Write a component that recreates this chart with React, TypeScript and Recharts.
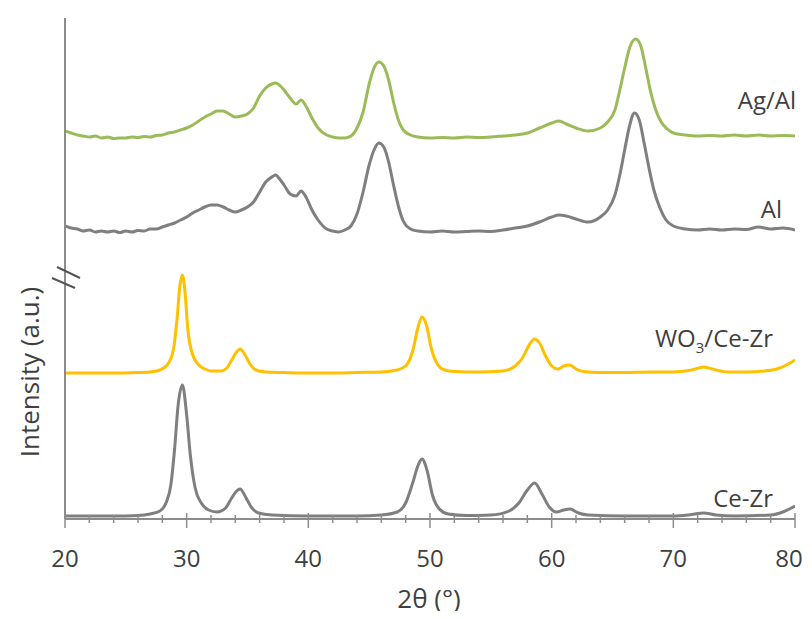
import { Line, LineChart, XAxis, YAxis } from 'recharts';

// 2-theta positions and intensities (a.u., stacked offsets)
const agAlX = [20, 20.5, 21, 21.5, 22, 22.5, 23, 23.5, 24, 24.5, 25, 25.5, 26, 26.5, 27, 27.5, 28, 28.5, 29, 29.5, 30, 30.5, 31, 31.5, 32, 32.5, 33, 33.5, 34, 34.5, 35, 35.5, 36, 36.5, 37, 37.3, 37.7, 38, 38.5, 39, 39.4, 39.8, 40.3, 40.8, 41.5, 42, 42.5, 43, 43.5, 44, 44.5, 45, 45.4, 45.8, 46.2, 46.6, 47, 47.4, 47.8, 48.4, 49, 50, 51, 52, 53, 54, 55, 56, 57, 58, 59, 60, 60.6, 61.2, 62, 63, 64, 64.6, 65.2, 65.6, 66, 66.4, 66.9, 67.3, 67.7, 68.1, 68.5, 69, 69.5, 70, 71, 72, 73, 74, 75, 76, 77, 78, 79, 80];
const agAlY = [388, 386, 384, 383, 382, 383, 381, 382, 380.5, 381, 381, 382, 381.5, 382.5, 382, 383.5, 384, 386, 387, 389, 391, 394, 398, 402, 405, 408, 408, 405, 402, 403, 405, 411, 423, 431, 435, 436, 433, 429, 421, 415, 419, 413, 401, 391, 384, 382, 381, 381, 383, 391, 407, 435, 451, 457, 453, 439, 417, 399, 389, 384, 382, 381, 381.5, 381, 382, 381.5, 382, 383, 384, 386, 391, 396, 398, 395, 391, 388, 391, 397, 409, 429, 451, 471, 480, 474, 453, 429, 411, 397, 390, 386, 384, 383, 383.5, 383, 384, 383, 384, 383, 383.5, 383];

const alX = [20, 20.5, 21, 21.5, 22, 22.5, 23, 23.5, 24, 24.5, 25, 25.5, 26, 26.5, 27, 27.5, 28, 28.5, 29, 29.5, 30, 30.5, 31, 31.5, 32, 32.5, 33, 33.5, 34, 34.5, 35, 35.5, 36, 36.5, 37, 37.3, 37.7, 38, 38.5, 39, 39.4, 39.8, 40.3, 40.8, 41.5, 42, 42.5, 43, 43.5, 44, 44.5, 45, 45.4, 45.8, 46.2, 46.6, 47, 47.4, 47.8, 48.4, 49, 50, 51, 52, 53, 54, 55, 56, 57, 58, 59, 60, 60.6, 61.2, 62, 63, 64, 64.6, 65.2, 65.6, 66, 66.4, 66.8, 67.2, 67.6, 68, 68.4, 68.9, 69.4, 70, 71, 72, 73, 74, 75, 76, 77, 78, 79, 80];
const alY = [293, 291, 290, 288, 289, 287, 288, 287, 288, 286.5, 288, 287, 288.5, 288, 290, 290, 292, 294, 296, 299, 302, 306, 309, 312, 314, 314, 312, 309, 307, 309, 312, 317, 327, 337, 342, 344, 339, 334, 325, 323, 328, 322, 309, 299, 290, 288, 287, 289, 293, 305, 327, 354, 369, 376, 372, 357, 334, 313, 298, 290, 288, 287, 288, 287, 287.5, 288, 287.5, 289, 291, 293, 297, 302, 304, 303, 300, 297, 302, 309, 324, 344, 369, 393, 406, 399, 376, 351, 329, 311, 299, 293, 290, 289, 290, 289, 290, 289.5, 292, 290, 291, 289];

const wo3X = [20, 22, 24, 26, 27, 27.8, 28.4, 28.9, 29.2, 29.45, 29.65, 29.85, 30.1, 30.5, 31, 31.5, 32, 32.8, 33.3, 33.7, 34.1, 34.4, 34.8, 35.2, 35.7, 36.5, 38, 40, 42, 44, 46, 47.3, 48, 48.6, 49, 49.35, 49.7, 50.1, 50.6, 51.2, 52, 54, 56, 57, 57.6, 58.2, 58.6, 59, 59.5, 60, 60.5, 61, 61.5, 62, 62.6, 64, 66, 68, 70, 71.5, 72.5, 73.5, 74.5, 76, 77.5, 78.5, 79.3, 80];
const wo3Y = [146, 146, 146, 146.5, 147, 149, 154, 169, 199, 234, 244, 229, 189, 164, 154, 150, 148, 148, 151, 159, 167, 170, 164, 155, 149, 147, 146.5, 146, 146, 146.5, 147, 149, 153, 169, 191, 202, 194, 171, 155, 149, 147.5, 147, 148, 153, 161, 175, 180, 176, 163, 153, 150, 153, 154, 150, 147.5, 146.5, 146.5, 147, 147, 149, 152, 149, 147, 147, 148, 150, 154, 159];

const ceZrX = [20, 22, 24, 26, 27, 27.8, 28.3, 28.7, 29, 29.3, 29.65, 30, 30.3, 30.7, 31.2, 31.8, 32.5, 33.2, 33.7, 34.1, 34.4, 34.8, 35.3, 35.9, 37, 40, 44, 46, 47.3, 48, 48.6, 49, 49.35, 49.75, 50.2, 50.7, 51.5, 53, 55, 56.5, 57.3, 58, 58.6, 59.2, 59.8, 60.4, 61, 61.5, 62.2, 63, 66, 70, 71.5, 72.5, 73.5, 75, 78, 79, 80];
const ceZrY = [3, 3, 3, 3.5, 5, 8, 16, 34, 69, 114, 134, 104, 64, 31, 16, 9, 7, 11, 21, 28, 30, 23, 12, 6, 4, 3, 3, 4, 7, 16, 37, 53, 60, 49, 24, 11, 5, 3.5, 4, 8, 16, 29, 36, 25, 12, 7, 9, 10, 6, 4, 3, 3, 4.5, 6, 4, 3, 4, 7, 13];

const xTicks = [20, 22, 24, 26, 28, 30, 32, 34, 36, 38, 40, 42, 44, 46, 48, 50, 52, 54, 56, 58, 60, 62, 64, 66, 68, 70, 72, 74, 76, 78, 80];

const toRows = (xs: number[], ys: number[]) => xs.map((x, i) => ({ x, y: ys[i] }));

const FONT = '"Open Sans", sans-serif';
const TEXT = '#3f3f3f';
const AXIS = '#8c8c8c';

function XTick(props: any) {
  const { x, y, payload } = props;
  const v = payload.value as number;
  const major = v % 10 === 0;
  // last label is pulled in a little, as in the original
  const lx = v === 80 ? x - 6 : x;
  return (
    <g>
      <line x1={x} x2={x} y1={y - (major ? 6 : 4)} y2={y + (major ? 9 : 4)} stroke={AXIS} strokeWidth={1.5} />
      {major && (
        <text x={lx} y={y + 48} textAnchor="middle" fill={TEXT} fontSize={24} fontFamily={FONT}>
          {v}
        </text>
      )}
    </g>
  );
}

export default function App() {
  const labelStyle = { fontFamily: FONT, fontSize: 24, fill: TEXT };
  return (
    <div style={{ position: 'relative', width: 796, height: 603 }}>
      <LineChart width={796} height={603} margin={{ top: 10, right: 9, bottom: 32, left: 47 }}>
        <XAxis
          type="number"
          dataKey="x"
          domain={[20, 80]}
          ticks={xTicks}
          allowDataOverflow
          height={60}
          tickSize={0}
          tickMargin={0}
          tickLine={false}
          interval={0}
          axisLine={{ stroke: AXIS, strokeWidth: 2 }}
          tick={<XTick />}
        />
        <YAxis
          type="number"
          domain={[0, 501]}
          width={10}
          tick={false}
          tickLine={false}
          axisLine={{ stroke: AXIS, strokeWidth: 2 }}
        />
        <Line data={toRows(ceZrX, ceZrY)} dataKey="y" type="monotone" stroke="#7f7f7f" strokeWidth={3} dot={false} isAnimationActive={false} />
        <Line data={toRows(wo3X, wo3Y)} dataKey="y" type="monotone" stroke="#ffc000" strokeWidth={3} dot={false} isAnimationActive={false} />
        <Line data={toRows(alX, alY)} dataKey="y" type="monotone" stroke="#7f7f7f" strokeWidth={3} dot={false} isAnimationActive={false} />
        <Line data={toRows(agAlX, agAlY)} dataKey="y" type="monotone" stroke="#9bbb59" strokeWidth={3} dot={false} isAnimationActive={false} />
      </LineChart>
      <svg
        width={796}
        height={603}
        style={{ position: 'absolute', left: 0, top: 0, overflow: 'visible', pointerEvents: 'none' }}
      >
        <line x1={49} y1={259} x2={72} y2={270} stroke="#555" strokeWidth={2} />
        <line x1={44} y1={270} x2={67} y2={280} stroke="#555" strokeWidth={2} />
        <text transform="translate(31,364) rotate(-90)" textAnchor="middle" {...labelStyle} fontSize={26}>
          Intensity (a.u.)
        </text>
        <text x={421} y={600} textAnchor="middle" {...labelStyle} fontSize={26}>
          2θ (°)
        </text>
        <text x={788} y={101} textAnchor="end" {...labelStyle}>Ag/Al</text>
        <text x={774} y={210} textAnchor="end" {...labelStyle}>Al</text>
        <text x={765} y={339} textAnchor="end" {...labelStyle}>
          WO<tspan dy={6} fontSize={15}>3</tspan>
          <tspan dy={-6}>/Ce-Zr</tspan>
        </text>
        <text x={765} y={499} textAnchor="end" {...labelStyle}>Ce-Zr</text>
      </svg>
    </div>
  );
}
